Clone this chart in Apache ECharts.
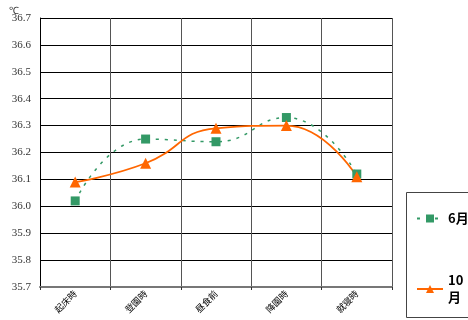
<!DOCTYPE html>
<html>
<head>
<meta charset="utf-8">
<script src="https://cdn.jsdelivr.net/npm/echarts@6/dist/echarts.min.js"></script>
<style>
  html, body { margin: 0; padding: 0; background: #fff; }
  #chart { width: 468px; height: 320px; }
</style>
</head>
<body>
<div id="chart"></div>
<script>
// Body temperature over the day, June vs October
const categories = ['起床時', '登園時', '昼食前', '降園時', '就寝時'];
const juneTemps = [36.02, 36.25, 36.24, 36.33, 36.12];
const octTemps = [36.09, 36.16, 36.29, 36.30, 36.11];
const yMin = 35.7, yMax = 36.7, yStep = 0.1;

const chart = echarts.init(document.getElementById('chart'), null, { renderer: 'canvas' });

chart.setOption({
  animation: false,
  backgroundColor: '#fff',
  grid: { left: 40, right: 76, top: 18, bottom: 33, containLabel: false },
  graphic: [
    { type: 'text', left: 9, top: 6, style: { text: '℃', font: '10px "Liberation Serif", serif', fill: '#333' } },
    { type: 'rect', shape: { x: 406.5, y: 192.5, width: 70, height: 125 },
      style: { fill: 'none', stroke: '#444', lineWidth: 1 } }
  ],
  legend: {
    orient: 'vertical',
    left: 411,
    top: 205,
    itemGap: 45,
    itemWidth: 26,
    itemHeight: 10,
    data: ['6月', '10月'],
    formatter: n => n === '10月' ? '10\n月' : n,
    textStyle: { fontSize: 13, fontWeight: 'bold', color: '#000',
      fontFamily: '"Noto Sans CJK JP", sans-serif', lineHeight: 17 }
  },
  xAxis: {
    type: 'category',
    data: categories,
    boundaryGap: true,
    axisLine: { lineStyle: { color: '#777', width: 2 } },
    axisTick: { show: true, length: 3, lineStyle: { color: '#333' } },
    axisLabel: { rotate: 45, fontSize: 9, color: '#000', margin: 5,
      fontFamily: '"Noto Sans CJK JP", sans-serif' },
    splitLine: { show: true, lineStyle: { color: '#555', width: 1 } }
  },
  yAxis: {
    type: 'value',
    min: yMin, max: yMax, interval: yStep,
    axisLine: { show: true, lineStyle: { color: '#000', width: 1 } },
    axisTick: { show: false },
    axisLabel: { color: '#333', fontSize: 11, margin: 9,
      fontFamily: '"Liberation Serif", "DejaVu Serif", serif',
      formatter: v => v.toFixed(1) },
    splitLine: { show: true, lineStyle: { color: '#000', width: 1 } }
  },
  series: [
    {
      name: '6月',
      type: 'line',
      data: juneTemps,
      smooth: 0.5,
      symbol: 'rect',
      symbolSize: 9,
      color: '#339966',
      lineStyle: { color: '#339966', width: 1.5, type: [3, 6] },
      itemStyle: { color: '#339966' }
    },
    {
      name: '10月',
      type: 'line',
      data: octTemps,
      smooth: 0.5,
      symbol: 'triangle',
      symbolSize: 11,
      color: '#FF6600',
      lineStyle: { color: '#FF6600', width: 1.8 },
      itemStyle: { color: '#FF6600' }
    }
  ]
});
</script>
</body>
</html>
